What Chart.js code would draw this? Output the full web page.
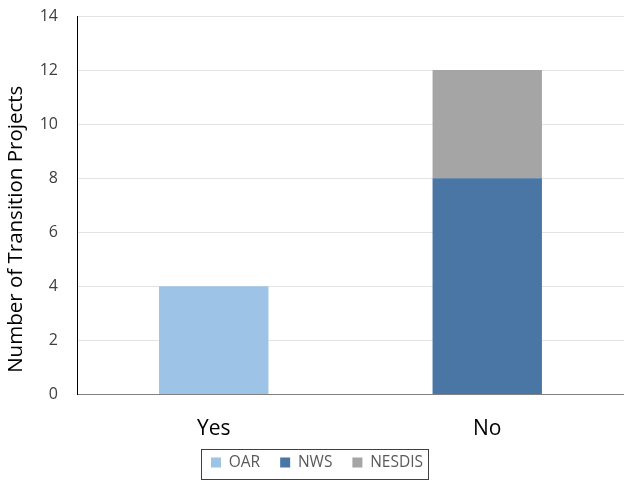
<!DOCTYPE html>
<html>
<head>
<meta charset="utf-8">
<script src="https://cdn.jsdelivr.net/npm/chart.js@4"></script>
<style>
  html, body { margin: 0; padding: 0; background: #fff; }
  #wrap { width: 624px; height: 481px; }
</style>
</head>
<body>
<div id="wrap"><canvas id="transitionChart"></canvas></div>
<script>
// chart data
const categories = ['Yes', 'No'];
const oarValues = [4, 0];
const nwsValues = [0, 8];
const nesdisValues = [0, 4];
const yMax = 14;
const yStep = 2;

const FONT = 'Open Sans';

// move the legend up/right a bit and put a thin frame round it, like the original
const legendFrame = {
    id: 'legendFrame',
    afterLayout(chart) {
        const lg = chart.legend;
        const dy = 434.7 - lg.top;
        lg.top += dy;
        lg.bottom += dy;
        lg.left += 5;
        lg.right += 5;
    },
    afterDraw(chart) {
        const ctx = chart.ctx;
        ctx.save();
        ctx.strokeStyle = '#404040';
        ctx.lineWidth = 1;
        ctx.strokeRect(201.5, 449.5, 227, 30);
        ctx.restore();
    }
};

const ctx = document.getElementById('transitionChart').getContext('2d');
new Chart(ctx, {
    type: 'bar',
    data: {
        labels: categories,
        datasets: [
            { label: 'OAR', data: oarValues, backgroundColor: '#9DC3E6' },
            { label: 'NWS', data: nwsValues, backgroundColor: '#4A76A6' },
            { label: 'NESDIS', data: nesdisValues, backgroundColor: '#A5A5A5' }
        ]
    },
    options: {
        responsive: true,
        maintainAspectRatio: false,
        animation: false,
        layout: { padding: { top: 16, right: 0, bottom: -11, left: 0 } },
        datasets: {
            bar: { barPercentage: 0.4, categoryPercentage: 1.0 }
        },
        plugins: {
            legend: {
                position: 'bottom',
                labels: {
                    boxWidth: 10,
                    boxHeight: 10,
                    padding: 20,
                    color: '#595959',
                    font: { family: FONT, size: 15.5 }
                }
            },
            tooltip: { enabled: false }
        },
        scales: {
            x: {
                stacked: true,
                grid: { display: false, drawTicks: false },
                border: { color: '#808080', width: 1 },
                ticks: { color: '#000', padding: 22, font: { family: FONT, size: 21 } },
                afterFit(scale) {
                    scale.height = 52;
                    scale.paddingLeft = 0;
                    scale.paddingRight = 0;
                }
            },
            y: {
                stacked: true,
                min: 0,
                max: yMax,
                ticks: { stepSize: yStep, color: '#404040', padding: 19, font: { family: FONT, size: 16 } },
                grid: { color: '#e3e3e3', drawTicks: false },
                border: { color: '#000', width: 1 },
                title: {
                    display: true,
                    text: 'Number of Transition Projects         ',
                    color: '#000',
                    padding: { top: 4, bottom: 4 },
                    font: { family: FONT, size: 20.5 }
                },
                afterFit(scale) {
                    scale.width = 77;
                    scale.paddingTop = 0;
                    scale.paddingBottom = 0;
                }
            }
        }
    },
    plugins: [legendFrame]
});
</script>
</body>
</html>
